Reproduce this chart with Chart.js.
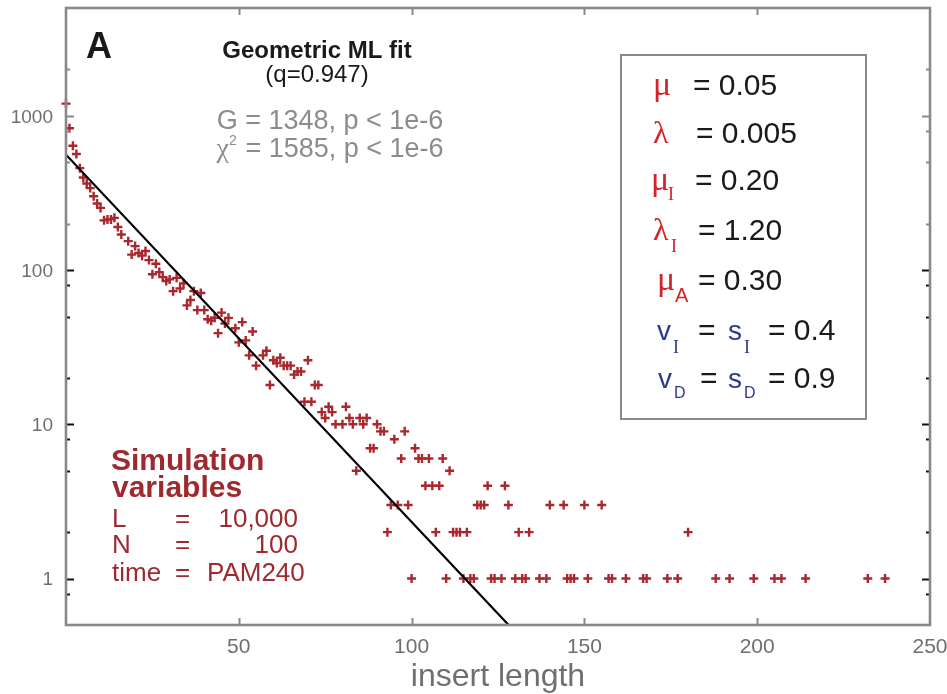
<!DOCTYPE html>
<html>
<head>
<meta charset="utf-8">
<title>Geometric ML fit</title>
<script src="https://cdn.jsdelivr.net/npm/chart.js@4.4.0/dist/chart.umd.min.js"></script>
<style>
  html, body { margin: 0; padding: 0; background: #fff; }
  #wrap { width: 947px; height: 694px; }
</style>
</head>
<body>
<div id="wrap"><canvas id="insert-chart" width="947" height="694"></canvas></div>
<script>
// observed insert lengths and how often each one occurred
var insertLength = [
    0, 1, 2, 3, 4, 5, 6, 7, 8, 9, 10, 11, 12, 13, 14, 15, 16, 18, 19, 20,
    21, 22, 23, 24, 25, 26, 27, 28, 29, 30, 31, 32, 33, 34, 35, 36, 37, 38, 39, 40,
    41, 42, 43, 44, 45, 46, 47, 49, 50, 51, 52, 53, 54, 55, 57, 58, 59, 60, 61, 62,
    63, 64, 65, 66, 67, 68, 69, 70, 71, 72, 73, 74, 75, 76, 77, 78, 80, 81, 82, 83,
    84, 85, 86, 87, 88, 89, 90, 91, 92, 93, 94, 95, 96, 97, 98, 99, 100, 101, 102, 103,
    104, 105, 106, 107, 108, 109, 110, 111, 112, 113, 114, 115, 116, 117, 118, 119, 120, 121, 122, 123,
    124, 126, 127, 128, 130, 131, 132, 133, 134, 137, 139, 140, 144, 145, 146, 147, 150, 151, 155, 157,
    158, 162, 167, 168, 174, 177, 180, 188, 192, 199, 205, 207, 214, 232, 237
];
var counts = [
    1200, 830, 640, 565, 458, 398, 364, 340, 301, 270, 253, 210, 213, 213, 218, 190, 170, 154, 126, 143,
    129, 124, 133, 116, 94, 110, 97, 90, 85, 87, 73, 89, 76, 82, 59, 64, 73, 55, 71, 55,
    48, 47, 49, 39, 53, 45, 49, 42, 34, 46, 35, 28, 40, 24, 28, 30, 18, 26, 25, 27,
    24, 24, 24, 21, 22, 22, 14, 26, 14, 18, 18, 12, 11, 13, 12, 10, 10, 13, 11, 10,
    5, 11, 10, 11, 7, 7, 10, 9, 9, 2, 3, 8, 3, 6, 9, 3, 1, 7, 6, 6,
    4, 6, 4, 2, 4, 6, 1, 5, 2, 2, 2, 1, 2, 1, 1, 3, 3, 3, 4, 1,
    1, 1, 4, 3, 1, 2, 1, 1, 2, 1, 1, 3, 3, 1, 1, 1, 3, 1, 3, 1,
    1, 1, 1, 1, 1, 1, 2, 1, 1, 1, 1, 1, 1, 1, 1
];

// geometric ML fit, end points of the straight line
var fitLength = [0, 140];
var fitCounts = [560, 0.26];

var xTickValues = [50, 100, 150, 200, 250];
var yTickValues = [0.8, 1, 2, 5, 8, 10, 20, 50, 80, 100, 200, 500, 800, 1000, 2000];
var yLabelValues = [1, 10, 100, 1000];

var dataRed = '#a8282e';
var textRed = '#d3232b';
var textBlue = '#2b3990';
var darkRed = '#9e2a2f';
var axisGrey = '#6f6f6f';
var frameGrey = '#898989';
var sans = "'Liberation Sans', Arial, Helvetica, sans-serif";
var serif = "'Liberation Serif', 'Times New Roman', serif";

/**
 * Write a piece of text and return the x where it ends.
 */
function put(ctx, str, x, y, font, color, align) {
    ctx.font = font;
    ctx.fillStyle = color;
    ctx.textAlign = align || 'left';
    ctx.textBaseline = 'alphabetic';
    ctx.fillText(str, x, y);
    return x + ctx.measureText(str).width;
}

// no extra room for overhanging tick labels, the frame sits where the layout padding puts it
function noOverhang(scale) {
    scale.paddingTop = 0;
    scale.paddingBottom = 0;
    scale.paddingLeft = 0;
    scale.paddingRight = 0;
}

// frame round the plot area with inward tick marks, like the original figure
var framePlugin = {
    id: 'frameTicks',
    afterDatasetsDraw: function (chart) {
        var ctx = chart.ctx;
        var area = chart.chartArea;
        var xs = chart.scales.x;
        var ys = chart.scales.y;
        ctx.save();
        ctx.lineWidth = 2;
        ys.ticks.forEach(function (t) {
            var py = Math.round(ys.getPixelForValue(t.value)) + 0.5;
            var len = yLabelValues.indexOf(t.value) >= 0 ? 8 : 4;
            ctx.strokeStyle = t.value > 100 ? frameGrey : '#111';
            ctx.beginPath();
            ctx.moveTo(area.left, py);
            ctx.lineTo(area.left + len, py);
            ctx.moveTo(area.right, py);
            ctx.lineTo(area.right - len, py);
            ctx.stroke();
        });
        ctx.strokeStyle = frameGrey;
        xs.ticks.forEach(function (t) {
            if (t.value >= 250) {
                return;
            }
            var px = Math.round(xs.getPixelForValue(t.value)) + 0.5;
            ctx.beginPath();
            ctx.moveTo(px, area.bottom);
            ctx.lineTo(px, area.bottom - 7);
            ctx.moveTo(px, area.top);
            ctx.lineTo(px, area.top + 7);
            ctx.stroke();
        });
        ctx.lineWidth = 2.6;
        ctx.strokeRect(area.left, area.top, area.right - area.left, area.bottom - area.top);
        ctx.restore();
    }
};

var notesPlugin = {
    id: 'notes',
    afterDraw: function (chart) {
        var ctx = chart.ctx;
        ctx.save();

        put(ctx, 'A', 86, 58, 'bold 36px ' + sans, '#1a1a1a');
        put(ctx, 'Geometric ML fit', 317, 58, 'bold 24px ' + sans, '#1a1a1a', 'center');
        put(ctx, '(q=0.947)', 317, 82, '24px ' + sans, '#1a1a1a', 'center');

        var grey = '#8c8c8c';
        var statFont = '27px ' + sans;
        put(ctx, 'G = 1348, p < 1e-6', 330, 129, statFont, grey, 'center');
        // chi-square line: symbol, superscript, rest
        ctx.font = statFont;
        var rest = ' = 1585, p < 1e-6';
        var wRest = ctx.measureText(rest).width;
        ctx.font = '28px ' + serif;
        var wChi = ctx.measureText('\u03C7').width;
        var x0 = 330 - (wChi + 9 + wRest) / 2;
        var x1 = put(ctx, '\u03C7', x0, 157, '28px ' + serif, grey);
        put(ctx, '2', x1, 145, '14px ' + sans, grey);
        put(ctx, rest, x1 + 9, 157, statFont, grey);

        // parameter box
        ctx.strokeStyle = frameGrey;
        ctx.lineWidth = 2;
        ctx.strokeRect(621, 55, 245, 364);
        var big = '30px ' + sans;
        put(ctx, '\u03BC', 653, 95, '34px ' + serif, textRed);
        put(ctx, '= 0.05', 693, 95, big, '#1a1a1a');
        put(ctx, '\u03BB', 653, 143, '32px ' + serif, textRed);
        put(ctx, '= 0.005', 696, 143, big, '#1a1a1a');
        put(ctx, '\u03BC', 651, 190, '34px ' + serif, textRed);
        put(ctx, 'I', 668, 200, '18px ' + serif, textRed);
        put(ctx, '= 0.20', 695, 190, big, '#1a1a1a');
        put(ctx, '\u03BB', 653, 240, '32px ' + serif, textRed);
        put(ctx, 'I', 671, 252, '18px ' + serif, textRed);
        put(ctx, '= 1.20', 698, 240, big, '#1a1a1a');
        put(ctx, '\u03BC', 657, 290, '34px ' + serif, textRed);
        put(ctx, 'A', 675, 302, '20px ' + sans, textRed);
        put(ctx, '= 0.30', 698, 290, big, '#1a1a1a');
        put(ctx, 'v', 657, 340, '28px ' + sans, textBlue);
        put(ctx, 'I', 673, 353, '18px ' + serif, textBlue);
        put(ctx, '=', 698, 340, big, '#1a1a1a');
        put(ctx, 's', 728, 340, '28px ' + sans, textBlue);
        put(ctx, 'I', 744, 353, '18px ' + serif, textBlue);
        put(ctx, '= 0.4', 768, 340, big, '#1a1a1a');
        put(ctx, 'v', 658, 388, '28px ' + sans, textBlue);
        put(ctx, 'D', 674, 398, '16px ' + sans, textBlue);
        put(ctx, '=', 700, 388, big, '#1a1a1a');
        put(ctx, 's', 728, 388, '28px ' + sans, textBlue);
        put(ctx, 'D', 744, 398, '16px ' + sans, textBlue);
        put(ctx, '= 0.9', 768, 388, big, '#1a1a1a');

        // simulation variables
        put(ctx, 'Simulation', 111, 470, 'bold 30px ' + sans, darkRed);
        put(ctx, 'variables', 112, 497, 'bold 30px ' + sans, darkRed);
        var small = '26px ' + sans;
        put(ctx, 'L', 112, 527, small, darkRed);
        put(ctx, '=', 175, 527, small, darkRed);
        put(ctx, '10,000', 298, 527, small, darkRed, 'right');
        put(ctx, 'N', 112, 553, small, darkRed);
        put(ctx, '=', 175, 553, small, darkRed);
        put(ctx, '100', 298, 553, small, darkRed, 'right');
        put(ctx, 'time', 112, 581, small, darkRed);
        put(ctx, '=', 175, 581, small, darkRed);
        put(ctx, 'PAM240', 207, 581, small, darkRed);

        ctx.restore();
    }
};

var points = insertLength.map(function (len, i) {
    return {x: len, y: counts[i]};
});
var fitLine = fitLength.map(function (len, i) {
    return {x: len, y: fitCounts[i]};
});

var ctx = document.getElementById('insert-chart');
var chart = new Chart(ctx, {
    type: 'scatter',
    data: {
        datasets: [{
            label: 'observed',
            data: points,
            pointStyle: 'cross',
            pointRadius: 4.5,
            pointBorderWidth: 2.4,
            borderColor: dataRed,
            backgroundColor: dataRed,
            clip: false,
            order: 2
        }, {
            label: 'geometric fit',
            type: 'line',
            data: fitLine,
            borderColor: '#000',
            borderWidth: 2.2,
            pointRadius: 0,
            fill: false,
            order: 1
        }]
    },
    options: {
        responsive: false,
        animation: false,
        devicePixelRatio: 1,
        layout: {padding: {top: 8, right: 17, left: 0, bottom: 0}},
        plugins: {
            legend: {display: false},
            tooltip: {enabled: false}
        },
        scales: {
            x: {
                type: 'linear',
                min: 0,
                max: 250,
                afterBuildTicks: function (scale) {
                    scale.ticks = xTickValues.map(function (v) {
                        return {value: v};
                    });
                },
                afterFit: function (scale) {
                    scale.height = 69;
                    noOverhang(scale);
                },
                grid: {display: false, drawTicks: false},
                border: {display: false},
                ticks: {
                    color: axisGrey,
                    font: {family: sans, size: 21},
                    padding: 10,
                    maxRotation: 0,
                    autoSkip: false,
                    callback: function (v) {
                        return String(v);
                    }
                },
                title: {
                    display: true,
                    text: 'insert length',
                    color: axisGrey,
                    font: {family: sans, size: 32},
                    padding: {top: 0, bottom: -2}
                }
            },
            y: {
                type: 'logarithmic',
                min: 0.5,
                max: 5000,
                afterBuildTicks: function (scale) {
                    scale.ticks = yTickValues.map(function (v) {
                        return {value: v, major: yLabelValues.indexOf(v) >= 0};
                    });
                },
                afterFit: function (scale) {
                    scale.width = 66;
                    noOverhang(scale);
                },
                grid: {display: false, drawTicks: false},
                border: {display: false},
                ticks: {
                    color: axisGrey,
                    font: {family: sans, size: 19},
                    padding: 13,
                    labelOffset: 1.5,
                    autoSkip: false,
                    callback: function (v) {
                        return yLabelValues.indexOf(v) >= 0 ? String(v) : '';
                    }
                }
            }
        }
    },
    plugins: [framePlugin, notesPlugin]
});
</script>
</body>
</html>
